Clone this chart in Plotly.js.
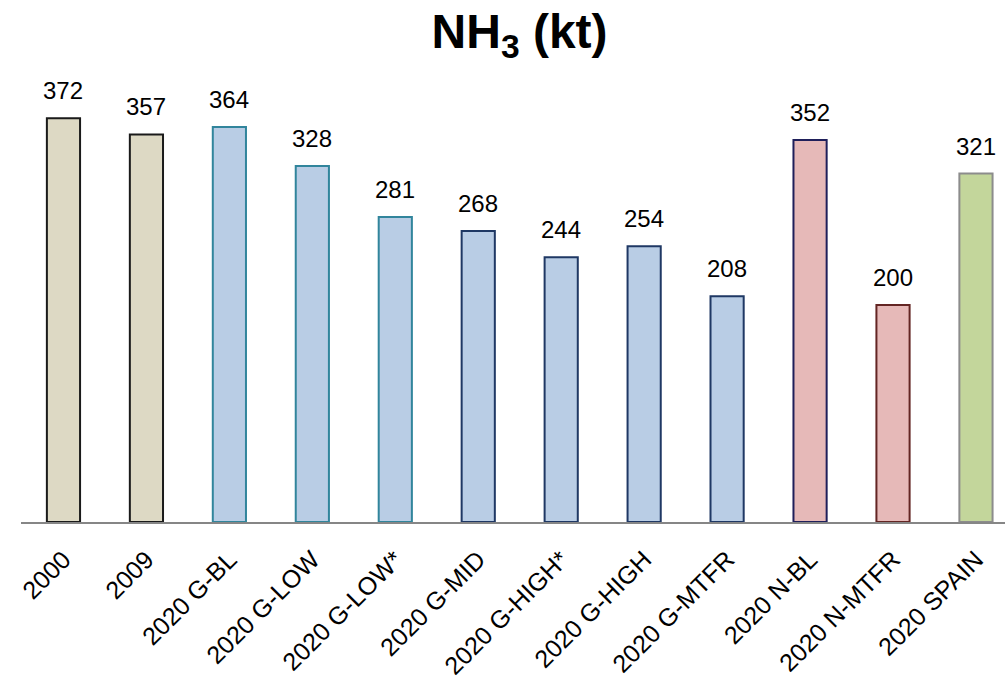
<!DOCTYPE html>
<html>
<head>
<meta charset="utf-8">
<script src="https://cdn.plot.ly/plotly-3.0.1.min.js"></script>
<style>html,body{margin:0;padding:0;background:#fff;}#chart{width:1005px;height:685px;}</style>
</head>
<body>
<div id="chart"></div>
<script>
const categories = ["2000","2009","2020 G-BL","2020 G-LOW","2020 G-LOW*","2020 G-MID","2020 G-HIGH*","2020 G-HIGH","2020 G-MTFR","2020 N-BL","2020 N-MTFR","2020 SPAIN"];
const values = [372,357,364,328,281,268,244,254,208,352,200,321];
const fillColors = ["#DDD9C4","#DDD9C4","#B9CDE5","#B9CDE5","#B9CDE5","#B9CDE5","#B9CDE5","#B9CDE5","#B9CDE5","#E6B9B8","#E6B9B8","#C3D69B"];
const lineColors = ["#1a1a1a","#1a1a1a","#31859C","#31859C","#31859C","#1F3864","#1F3864","#1F3864","#1F3864","#1F1F5A","#632523","#8C8C8C"];

const FONT = "Liberation Sans, Arial, sans-serif";

const trace = {
  type: "bar",
  x: categories,
  y: values,
  width: 0.4,
  marker: {color: fillColors, line: {color: lineColors, width: 2}},
  hoverinfo: "none"
};

const annotations = categories.map((c, i) => ({
  x: i, y: values[i], xref: "x", yref: "y",
  text: String(values[i]), showarrow: false,
  yanchor: "bottom", yshift: 12,
  font: {family: FONT, size: 24, color: "#000"}
}));

const layout = {
  width: 1005, height: 685,
  margin: {l: 21, r: 0, t: 70, b: 163},
  paper_bgcolor: "#fff", plot_bgcolor: "#fff",
  title: {text: "<b>NH<sub>3</sub> (kt)</b>", x: 0.517, xanchor: "center", y: 0.955, yanchor: "middle",
          font: {family: FONT, size: 48, color: "#000"}},
  showlegend: false,
  annotations: annotations,
  xaxis: {
    type: "category",
    range: [-0.512, 11.35],
    showline: true, linecolor: "#868686", linewidth: 2,
    ticks: "outside", ticklen: 11, tickcolor: "rgba(0,0,0,0)", tickangle: -45,
    tickfont: {family: FONT, size: 25, color: "#000"},
    showgrid: false, zeroline: false
  },
  yaxis: {range: [0, 416.4], visible: false, showgrid: false, zeroline: false}
};

Plotly.newPlot("chart", [trace], layout, {displayModeBar: false, staticPlot: true});
</script>
</body>
</html>
